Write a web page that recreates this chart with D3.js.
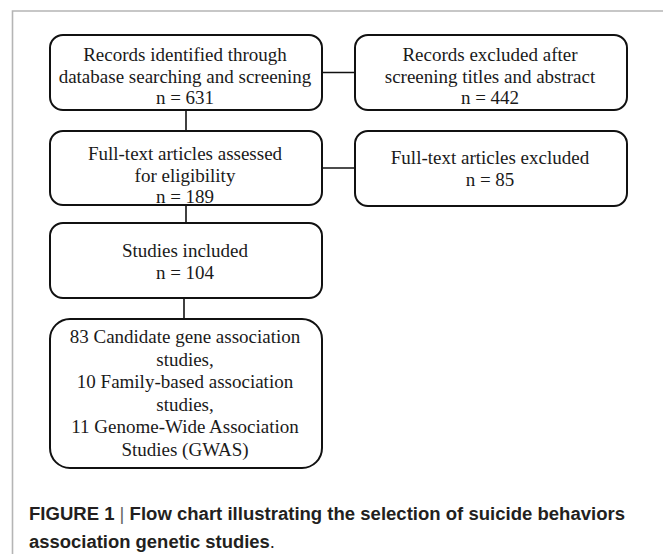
<!DOCTYPE html>
<html>
<head>
<meta charset="utf-8">
<script src="https://cdn.jsdelivr.net/npm/d3@7"></script>
<style>
  html, body { margin: 0; padding: 0; background: #fff; }
  svg { display: block; }
</style>
</head>
<body>
<div id="grafico"></div>
<script>
// flow chart content
var boxIds = ["identified", "excluded1", "assessed", "excluded2", "included", "types"];
var boxLines = [
  ["Records identified through", "database searching and screening"],
  ["Records excluded after", "screening titles and abstract"],
  ["Full-text articles assessed", "for eligibility"],
  ["Full-text articles excluded"],
  ["Studies included"],
  ["83 Candidate gene association", "studies,", "10 Family-based association", "studies,", "11 Genome-Wide Association", "Studies (GWAS)"]
];
var boxCounts = [631, 442, 189, 85, 104, null];
var boxColumn = [0, 1, 0, 1, 0, 0];
var links = [["identified", "excluded1"], ["identified", "assessed"], ["assessed", "excluded2"], ["assessed", "included"], ["included", "types"]];
var captionLine1 = ["FIGURE 1 ", "|", " Flow chart illustrating the selection of suicide behaviors"];
var captionLine2 = ["association genetic studies", "."];

var ancho = 663, alto = 554;

var svg = d3.select("#grafico").append("svg")
    .attr("width", ancho)
    .attr("height", alto);

// gray frame (runs off the right and bottom edge)
svg.append("path")
    .attr("d", "M12.5," + alto + " V11 H" + ancho)
    .attr("fill", "none")
    .attr("stroke", "#b5b5b5")
    .attr("stroke-width", 1.6);

// layout: columns and row top/bottom edges
var x = d3.scaleOrdinal().domain([0, 1]).range([50, 355]);
var boxW = 272;
var tops = d3.scaleOrdinal().domain(boxIds).range([35, 35, 131, 131, 223, 319]);
var bottoms = d3.scaleOrdinal().domain(boxIds).range([110, 110, 205, 206, 298, 468]);
var radius = d3.scaleOrdinal().domain(boxIds).range([13, 13, 13, 13, 13, 20]);
var firstBase = d3.scaleOrdinal().domain(boxIds).range([61, 61, 160, 164, 257, 343]);
var lineStep = d3.scaleOrdinal().domain(boxIds).range([21.5, 21.5, 21.5, 22, 22, 22.6]);

var nodes = boxIds.map(function (id, i) {
  return {
    id: id,
    x: x(boxColumn[i]),
    y: tops(id),
    w: boxW,
    h: bottoms(id) - tops(id),
    lines: boxCounts[i] == null ? boxLines[i] : boxLines[i].concat(["n = " + boxCounts[i]])
  };
});
var byId = {};
nodes.forEach(function (n) { byId[n.id] = n; });

// connectors
svg.selectAll(".link")
  .data(links)
  .enter().append("line")
    .attr("class", "link")
    .attr("stroke", "#111")
    .attr("stroke-width", 1.6)
    .each(function (d) {
      var a = byId[d[0]], b = byId[d[1]];
      var sel = d3.select(this);
      if (a.x === b.x) {
        var cx = a.x + a.w / 2 - (d[0] === "included" ? 2 : 0);
        sel.attr("x1", cx).attr("x2", cx).attr("y1", a.y + a.h).attr("y2", b.y);
      } else {
        var cy = a.y + a.h / 2;
        sel.attr("x1", a.x + a.w).attr("x2", b.x).attr("y1", cy).attr("y2", cy);
      }
    });

var g = svg.selectAll(".box")
  .data(nodes)
  .enter().append("g")
    .attr("class", "box");

g.append("rect")
    .attr("x", function (d) { return d.x; })
    .attr("y", function (d) { return d.y; })
    .attr("width", function (d) { return d.w; })
    .attr("height", function (d) { return d.h; })
    .attr("rx", function (d) { return radius(d.id); })
    .attr("ry", function (d) { return radius(d.id); })
    .attr("fill", "#fff")
    .attr("stroke", "#111")
    .attr("stroke-width", 2);

g.each(function (d) {
  var t = d3.select(this).append("text")
      .attr("text-anchor", "middle")
      .style("font-family", "'Liberation Serif', 'Times New Roman', serif")
      .style("font-size", "19px")
      .style("fill", "#1a1a1a");
  d.lines.forEach(function (line, i) {
    t.append("tspan")
        .attr("x", d.x + d.w / 2 - 1)
        .attr("y", firstBase(d.id) + i * lineStep(d.id))
        .text(line);
  });
});

// caption
function caption(parts, y, width) {
  var t = svg.append("text")
      .attr("x", 29)
      .attr("y", y)
      .style("font-family", "'Liberation Sans Narrow', 'Liberation Sans', Arial, sans-serif")
      .style("font-size", "18px")
      .style("fill", "#231f20");
  parts.forEach(function (p) {
    var bold = !(p === "|" || p === ".");
    t.append("tspan")
        .style("font-weight", bold ? "bold" : "normal")
        .style("fill", p === "|" ? "#666" : null)
        .text(p);
  });
  t.attr("textLength", width).attr("lengthAdjust", "spacingAndGlyphs");
  return t;
}
caption(captionLine1, 520, 596);
caption(captionLine2, 548, 246);
</script>
</body>
</html>
